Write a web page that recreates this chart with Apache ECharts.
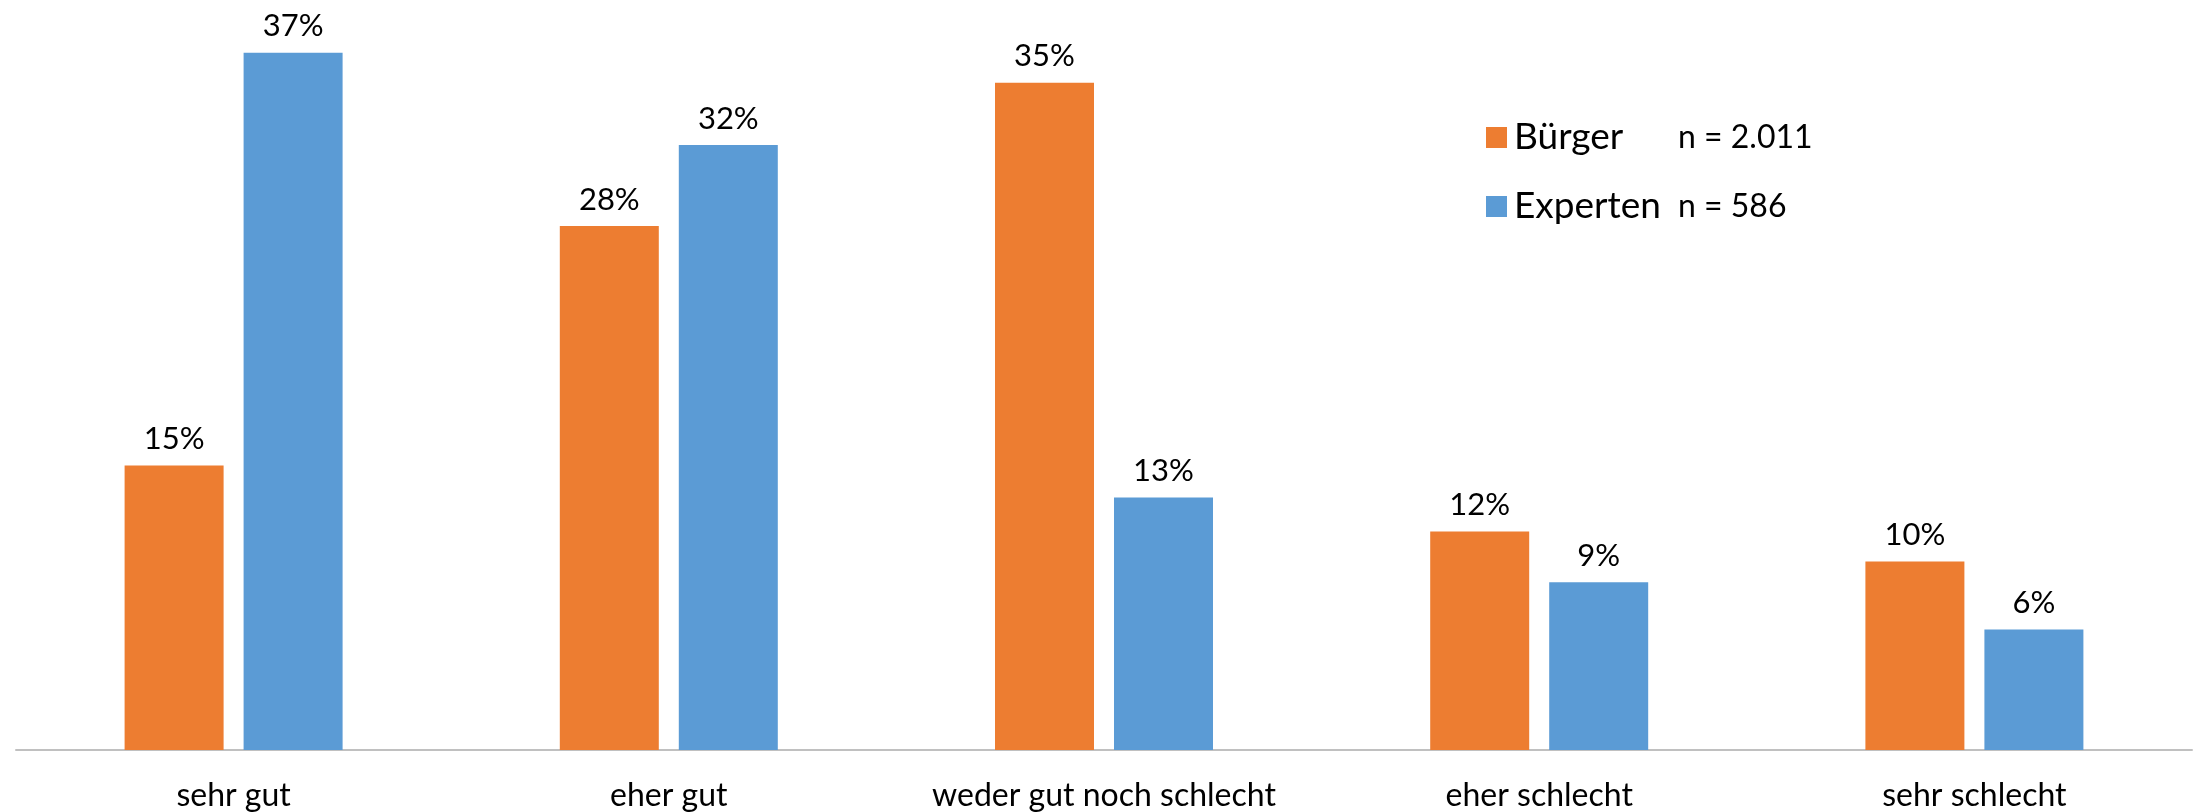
<!DOCTYPE html>
<html>
<head>
<meta charset="utf-8">
<script src="https://cdn.jsdelivr.net/npm/echarts@6/dist/echarts.min.js"></script>
<style>
html,body{margin:0;padding:0;background:#fff;}
#c{width:2193px;height:812px;}
</style>
</head>
<body>
<div id="c"></div>
<script>
const categories = ['sehr gut', 'eher gut', 'weder gut noch schlecht', 'eher schlecht', 'sehr schlecht'];
const seriesNames = ['Bürger', 'Experten'];
const sampleSizes = ['n = 2.011', 'n = 586'];
const buerger = [15.1, 27.8, 35.4, 11.6, 10.0];
const experten = [37.0, 32.1, 13.4, 8.9, 6.4];
const colors = ['#ED7D31', '#5B9BD5'];

const chart = echarts.init(document.getElementById('c'));
const FONT = 'Lato';
function labelCfg() {
  return {
    show: true,
    position: 'top',
    distance: 11,
    fontFamily: FONT,
    fontSize: 31,
    color: '#000',
    formatter: p => Math.round(p.value) + '%'
  };
}
chart.setOption({
  animation: false,
  color: colors,
  grid: { left: 16, right: 1, top: 15, bottom: 60, containLabel: false },
  legend: {
    orient: 'vertical',
    left: 1481,
    top: 114,
    itemWidth: 21,
    itemHeight: 21,
    itemGap: 32,
    icon: 'rect',
    data: seriesNames,
    formatter: name => {
      const i = seriesNames.indexOf(name);
      return '{a|' + name + '}{b|' + sampleSizes[i] + '}';
    },
    textStyle: {
      fontFamily: FONT,
      rich: {
        a: { fontFamily: FONT, fontSize: 37, color: '#000', width: 164, padding: [0, 0, 0, 2], lineHeight: 40 },
        b: { fontFamily: FONT, fontSize: 32, color: '#000', lineHeight: 40 }
      }
    }
  },
  xAxis: {
    type: 'category',
    data: categories,
    axisLine: { lineStyle: { color: '#c0c0c0', width: 2 } },
    axisTick: { show: false },
    axisLabel: { fontFamily: FONT, fontSize: 32, color: '#000', margin: 30, interval: 0 }
  },
  yAxis: {
    type: 'value',
    min: 0,
    max: 39,
    show: false,
    splitLine: { show: false }
  },
  series: [
    { name: seriesNames[0], type: 'bar', data: buerger, barWidth: 99, barGap: '20.2%', label: labelCfg() },
    { name: seriesNames[1], type: 'bar', data: experten, barWidth: 99, barGap: '20.2%', label: labelCfg() }
  ]
});
</script>
</body>
</html>
